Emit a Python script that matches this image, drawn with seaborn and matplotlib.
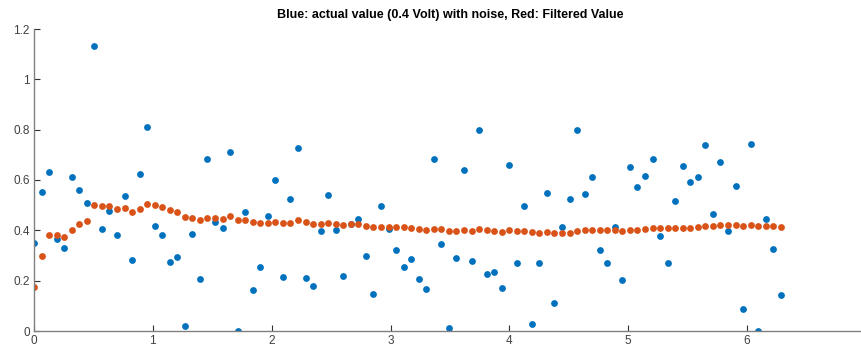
# kalman-ish filter demo plot -> out.png
# noisy 0.4 V readings (blue) vs filtered estimate (red)

import matplotlib.pyplot as plt
import numpy as np
import pandas as pd
import seaborn as sns

N_POINTS = 100
T_END = 2 * np.pi

measured = [
    0.348, 0.551, 0.631, 0.364, 0.330, 0.611, 0.562, 0.509, 1.132, 0.407,
    0.477, 0.380, 0.537, 0.282, 0.625, 0.811, 0.417, 0.383, 0.274, 0.295,
    0.020, 0.387, 0.205, 0.682, 0.435, 0.411, 0.712, 0.001, 0.474, 0.163,
    0.256, 0.457, 0.601, 0.213, 0.524, 0.727, 0.209, 0.177, 0.397, 0.541,
    0.400, 0.219, 0.427, 0.447, 0.299, 0.149, 0.498, 0.404, 0.320, 0.256,
    0.288, 0.206, 0.166, 0.684, 0.344, 0.012, 0.292, 0.639, 0.279, 0.797,
    0.226, 0.233, 0.170, 0.660, 0.271, 0.496, 0.029, 0.271, 0.547, 0.113,
    0.412, 0.524, 0.800, 0.544, 0.611, 0.320, 0.271, 0.413, 0.202, 0.652,
    0.573, 0.614, 0.682, 0.376, 0.271, 0.517, 0.656, 0.594, 0.613, 0.738,
    0.466, 0.671, 0.397, 0.577, 0.086, 0.744, 0.001, 0.447, 0.324, 0.142,
]

filtered = [
    0.174, 0.299, 0.383, 0.380, 0.372, 0.403, 0.425, 0.436, 0.502, 0.496,
    0.497, 0.485, 0.488, 0.474, 0.485, 0.504, 0.500, 0.492, 0.481, 0.474,
    0.453, 0.450, 0.440, 0.450, 0.450, 0.447, 0.457, 0.440, 0.443, 0.432,
    0.429, 0.429, 0.432, 0.429, 0.429, 0.440, 0.433, 0.427, 0.427, 0.429,
    0.425, 0.423, 0.425, 0.424, 0.417, 0.415, 0.415, 0.413, 0.415, 0.412,
    0.408, 0.405, 0.401, 0.404, 0.404, 0.397, 0.397, 0.401, 0.397, 0.404,
    0.401, 0.397, 0.393, 0.401, 0.397, 0.397, 0.393, 0.391, 0.393, 0.389,
    0.391, 0.391, 0.397, 0.400, 0.400, 0.400, 0.400, 0.400, 0.397, 0.400,
    0.400, 0.404, 0.408, 0.408, 0.408, 0.408, 0.411, 0.411, 0.415, 0.417,
    0.417, 0.421, 0.421, 0.421, 0.419, 0.421, 0.417, 0.417, 0.417, 0.415,
]

BLUE = "#0072BD"
RED = "#D95319"
AXIS_GREY = "#808080"
TEXT_GREY = "#404040"


def main():
    t = np.linspace(0, T_END, N_POINTS)
    df = pd.DataFrame({"t": t, "measured": measured, "filtered": filtered})

    sns.set_style("white")
    plt.rcParams["font.family"] = ["Liberation Sans", "DejaVu Sans"]

    fig = plt.figure(figsize=(8.62, 3.47), dpi=100)
    ax = fig.add_axes([34 / 862, 16 / 347, 832 / 862, 302 / 347])

    sns.scatterplot(data=df, x="t", y="measured", color=BLUE, s=24,
                    linewidth=0, ax=ax)
    sns.scatterplot(data=df, x="t", y="filtered", color=RED, s=24,
                    linewidth=0, ax=ax)

    ax.set_xlim(0, 7)
    ax.set_ylim(0, 1.2)
    ax.set_xticks(range(0, 8))
    ax.set_yticks([0, 0.2, 0.4, 0.6, 0.8, 1.0, 1.2])
    ax.set_yticklabels(["0", "0.2", "0.4", "0.6", "0.8", "1", "1.2"])
    ax.set_xlabel("")
    ax.set_ylabel("")

    for side in ["top", "right"]:
        ax.spines[side].set_visible(False)
    for side in ["left", "bottom"]:
        ax.spines[side].set_color(AXIS_GREY)
        ax.spines[side].set_linewidth(1.0)

    ax.tick_params(direction="in", length=4, width=0.8, color="#303030",
                   labelcolor=TEXT_GREY, labelsize=8.5, pad=3,
                   bottom=True, left=True)

    ax.set_title("Blue: actual value (0.4 Volt) with noise, Red: Filtered Value",
                 fontsize=9, fontweight="bold", color="black", pad=8)

    fig.savefig("out.png", dpi=100)
    plt.close(fig)


if __name__ == "__main__":
    main()
